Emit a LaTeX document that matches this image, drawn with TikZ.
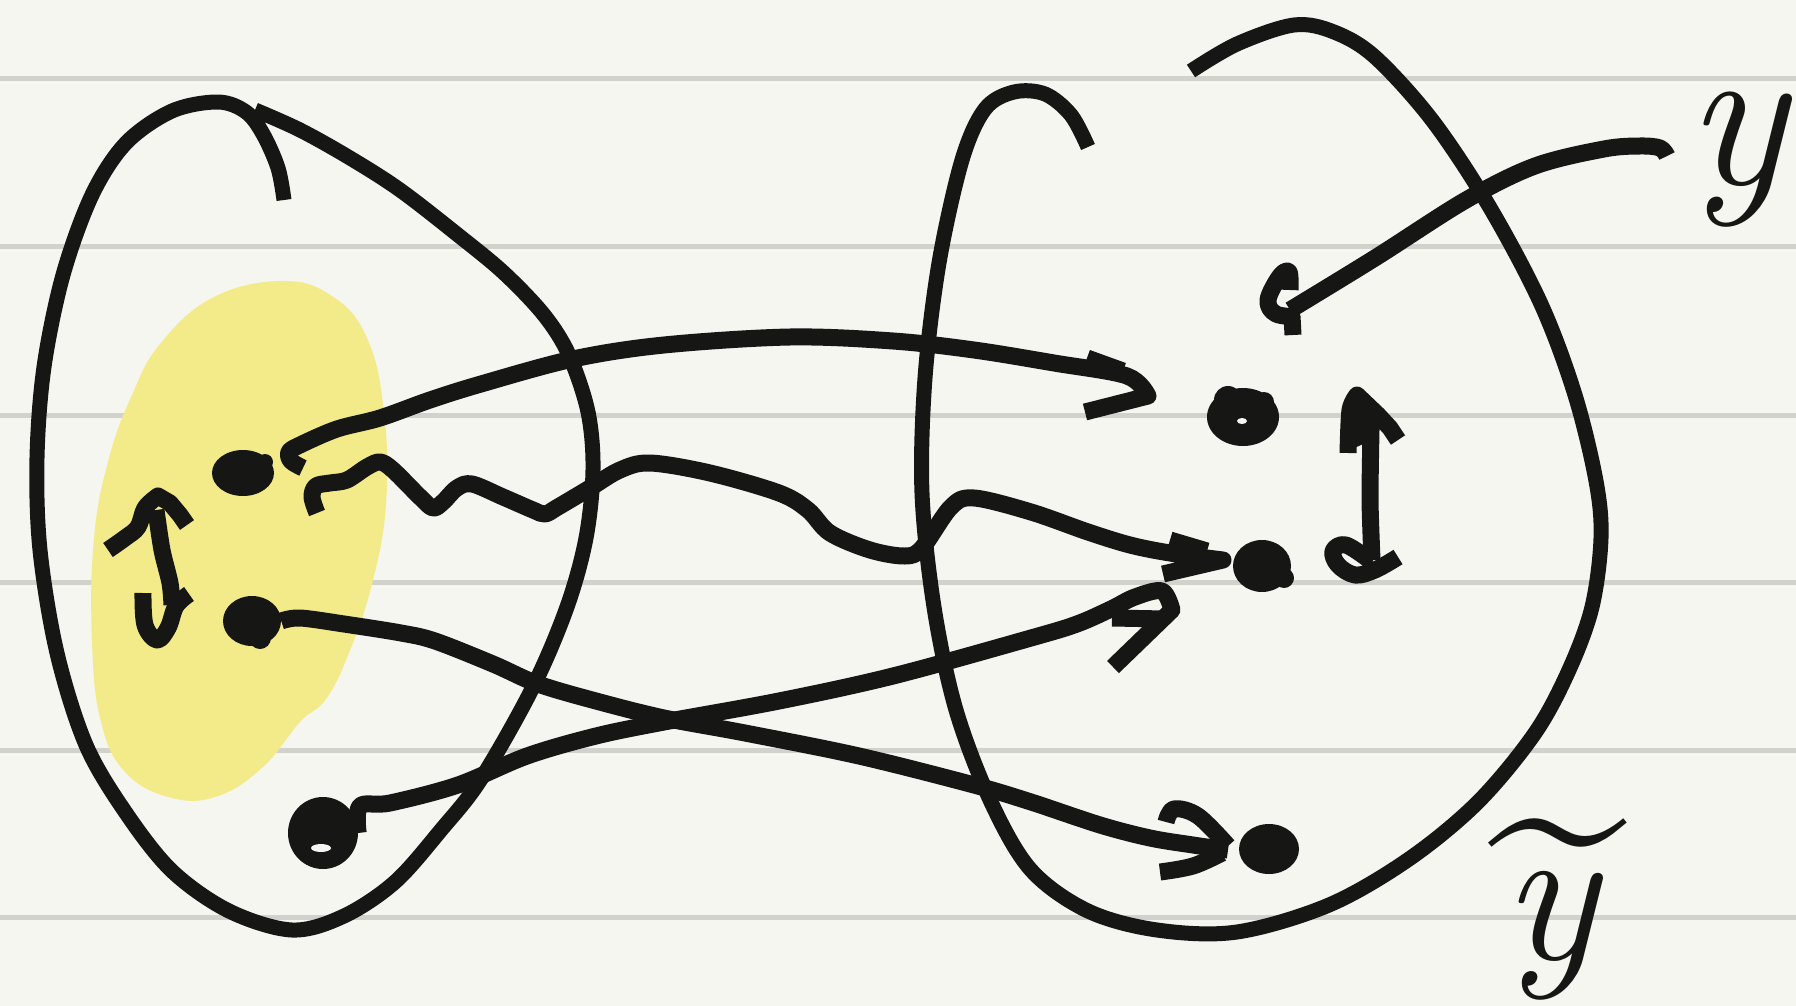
\documentclass[tikz,border=0pt]{standalone}
\usepackage{fontspec}
\usetikzlibrary{shapes.geometric}
\definecolor{paper}{RGB}{246,246,240}
\definecolor{rulec}{RGB}{210,210,204}
\definecolor{ink}{RGB}{22,22,20}
\definecolor{hilite}{RGB}{243,235,138}
\begin{document}
\begin{tikzpicture}[x=1pt,y=-1pt,
  pen/.style={draw=ink, line width=17pt, line join=round},
  loop pen/.style={draw=ink, line width=15pt, line join=round},
  blob/.style={ellipse, fill=ink, inner sep=0pt},
  rulingline/.style={draw=rulec, line width=5pt},
  label/.style={text=ink, inner sep=0pt, anchor=base}]
\fill[paper] (0,0) rectangle (1796,1006);
\useasboundingbox (0,0) rectangle (1796,1006);
\foreach \yy in {79,246,415,582,750,917} \draw[rulingline] (0,\yy) -- (1796,\yy);

% highlighted region
\fill[hilite] plot[smooth cycle, tension=0.7] coordinates {(281,281) (332,296) (367,338) (384,412) (386,504) (372,584) (349,653) (326,699) (300,722) (263,767) (218,796) (172,798) (126,773) (101,722) (92,641) (94,538) (109,458) (132,395) (160,344) (212,298)};

% left set
\draw[loop pen] plot[smooth, tension=0.55] coordinates {(284,200) (278,168) (263,134) (246,112) (218,102) (172,111) (126,143) (92,195) (63,275) (44,367) (37,458) (40,550) (57,653) (86,745) (126,813) (172,871) (229,911) (292,930) (344,916) (395,882) (441,830) (481,779) (533,687) (567,607) (586,538) (593,470) (588,412) (569,355) (544,315) (504,273) (458,235) (400,190) (350,158) (300,130) (255,110)};

% right set
\draw[loop pen] plot[smooth, tension=0.55] coordinates {(1191,71) (1237,44) (1294,25) (1334,32) (1375,57) (1432,120) (1489,206) (1541,304) (1575,395) (1596,481) (1601,538) (1592,607) (1569,670) (1535,733) (1478,802) (1409,859) (1329,905) (1237,932) (1157,930) (1088,911) (1031,870) (991,802) (956,710) (934,607) (922,493) (925,378) (939,263) (962,160) (985,109) (1014,92) (1045,94) (1071,115) (1088,147)};

% points
\node[blob, minimum width=62pt, minimum height=46pt] (L1) at (243,473) {};
\fill[ink] (265,462) circle (8);
\node[blob, minimum width=58pt, minimum height=50pt] (L2) at (252,621) {};
\fill[ink] (260,638) circle (11);
\node[blob, minimum width=70pt, minimum height=72pt] (L3) at (323,833) {};
\fill[paper] (321,848) ellipse (10 and 4);
\node[blob, minimum width=72pt, minimum height=58pt] (R1) at (1243,417) {};
\fill[ink] (1228,400) circle (14);
\fill[ink] (1264,402) circle (10);
\fill[paper] (1242,421) ellipse (5 and 3);
\node[blob, minimum width=58pt, minimum height=52pt] (R2) at (1262,566) {};
\fill[ink] (1284,578) circle (10);
\node[blob, minimum width=60pt, minimum height=50pt] (R3) at (1269,849) {};

% arrow a : L1 -> R1
\coordinate (a0) at (303,468);
\coordinate (a1) at (1148,396);
\draw[pen] plot[smooth, tension=0.55] coordinates {(a0) (291,461) (289,452) (300,445) (337,429) (380,418) (430,400) (481,384) (573,359) (664,345) (790,337) (893,341) (974,350) (1054,363) (1127,376) (a1)} -- (1085,412);
\draw[pen] (1087,358) -- (1123,371);

% arrow b : wavy L1 -> R2
\coordinate (b0) at (317,513);
\coordinate (b1) at (1223,560);
\draw[pen] plot[smooth, tension=0.55] coordinates {(b0) (312,497) (316,486) (330,483) (347,480) (367,467) (380,462) (393,470) (420,497) (433,508) (443,502) (457,488) (472,484) (503,497) (533,510) (545,514) (558,507) (590,488) (620,470) (650,463) (710,473) (779,493) (808,510) (830,533) (870,550) (905,556) (922,548) (951,507) (974,498) (1031,512) (1088,532) (1130,545) (1170,553) (b1)} -- (1163,574);
\draw[pen] (1170,540) -- (1207,551);

% arrow c : L2 -> R3
\coordinate (c1) at (1228,850);
\draw[pen] plot[smooth, tension=0.55] coordinates {(L2.east) (300,618) (344,624) (401,633) (435,641) (493,664) (538,684) (596,701) (664,718) (745,733) (859,756) (974,785) (1031,802) (1100,825) (1150,838) (1193,845) (c1)};
\draw[pen] plot[smooth, tension=0.6] coordinates {(1166,822) (1174,809) (1198,816) (1228,846)};
\draw[pen] plot[smooth, tension=0.6] coordinates {(1160,872) (1193,866) (1222,853)};

% arrow d : L3 -> R2
\coordinate (d1) at (1172,610);
\draw[pen] plot[smooth, tension=0.55] coordinates {(L3.east) (360,806) (390,803) (458,785) (527,756) (596,736) (664,722) (779,701) (893,676) (1031,638) (1077,624) (1111,609) (1135,597) (1162,591) (d1)} -- (1113,667);
\draw[pen] (1112,618) -- (1165,619);

% left internal arrow
\draw[pen] plot[smooth, tension=0.6] coordinates {(108,550) (125,538) (138,527) (145,508) (158,496)} -- (170,503) -- (180,515) -- (187,525);
\draw[pen] plot[smooth, tension=0.5] coordinates {(156,510) (162,550) (170,583) (172,605)};
\draw[pen] plot[smooth, tension=0.6] coordinates {(143,593) (145,625) (157,640) (168,628) (176,606) (189,594)};

% right internal arrow
\fill[ink] (1350,450) -- (1354,398) -- (1385,422) -- (1372,440) -- cycle;
\draw[pen] plot[smooth, tension=0.5] coordinates {(1348,453) (1350,410) (1357,395)} -- (1378,415) -- (1390,428) -- (1398,440);
\draw[pen] plot[smooth, tension=0.4] coordinates {(1371,430) (1370,500) (1372,560)};
\draw[pen] plot[smooth, tension=0.6] coordinates {(1398,557) (1375,570) (1355,575) (1338,565) (1333,551) (1346,545) (1372,562)};

% labels
\node[label, font=\fontsize{210}{210}\selectfont\itshape] (Ylab) at (1736,184) {y};
\node[label, font=\fontsize{200}{200}\selectfont\itshape] (Ytil) at (1550,959) {\rlap{\raisebox{64pt}[0pt][0pt]{\hspace{-14pt}\fontsize{250}{250}\selectfont\upshape\textasciitilde}}y};

% arrow from label y into right set
\coordinate (y0) at (1667,156);
\coordinate (y1) at (1290,310);
\draw[pen] plot[smooth, tension=0.55] coordinates {(y0) (1660,148) (1640,146) (1604,149) (1535,166) (1466,200) (1375,258) (y1)};
\draw[pen] plot[smooth, tension=0.6] coordinates {(1290,290) (1289,272) (1280,276) (1268,300) (1276,314) (1300,317)};
\draw[pen] (1292,316) -- (1293,335);
\end{tikzpicture}
\end{document}
